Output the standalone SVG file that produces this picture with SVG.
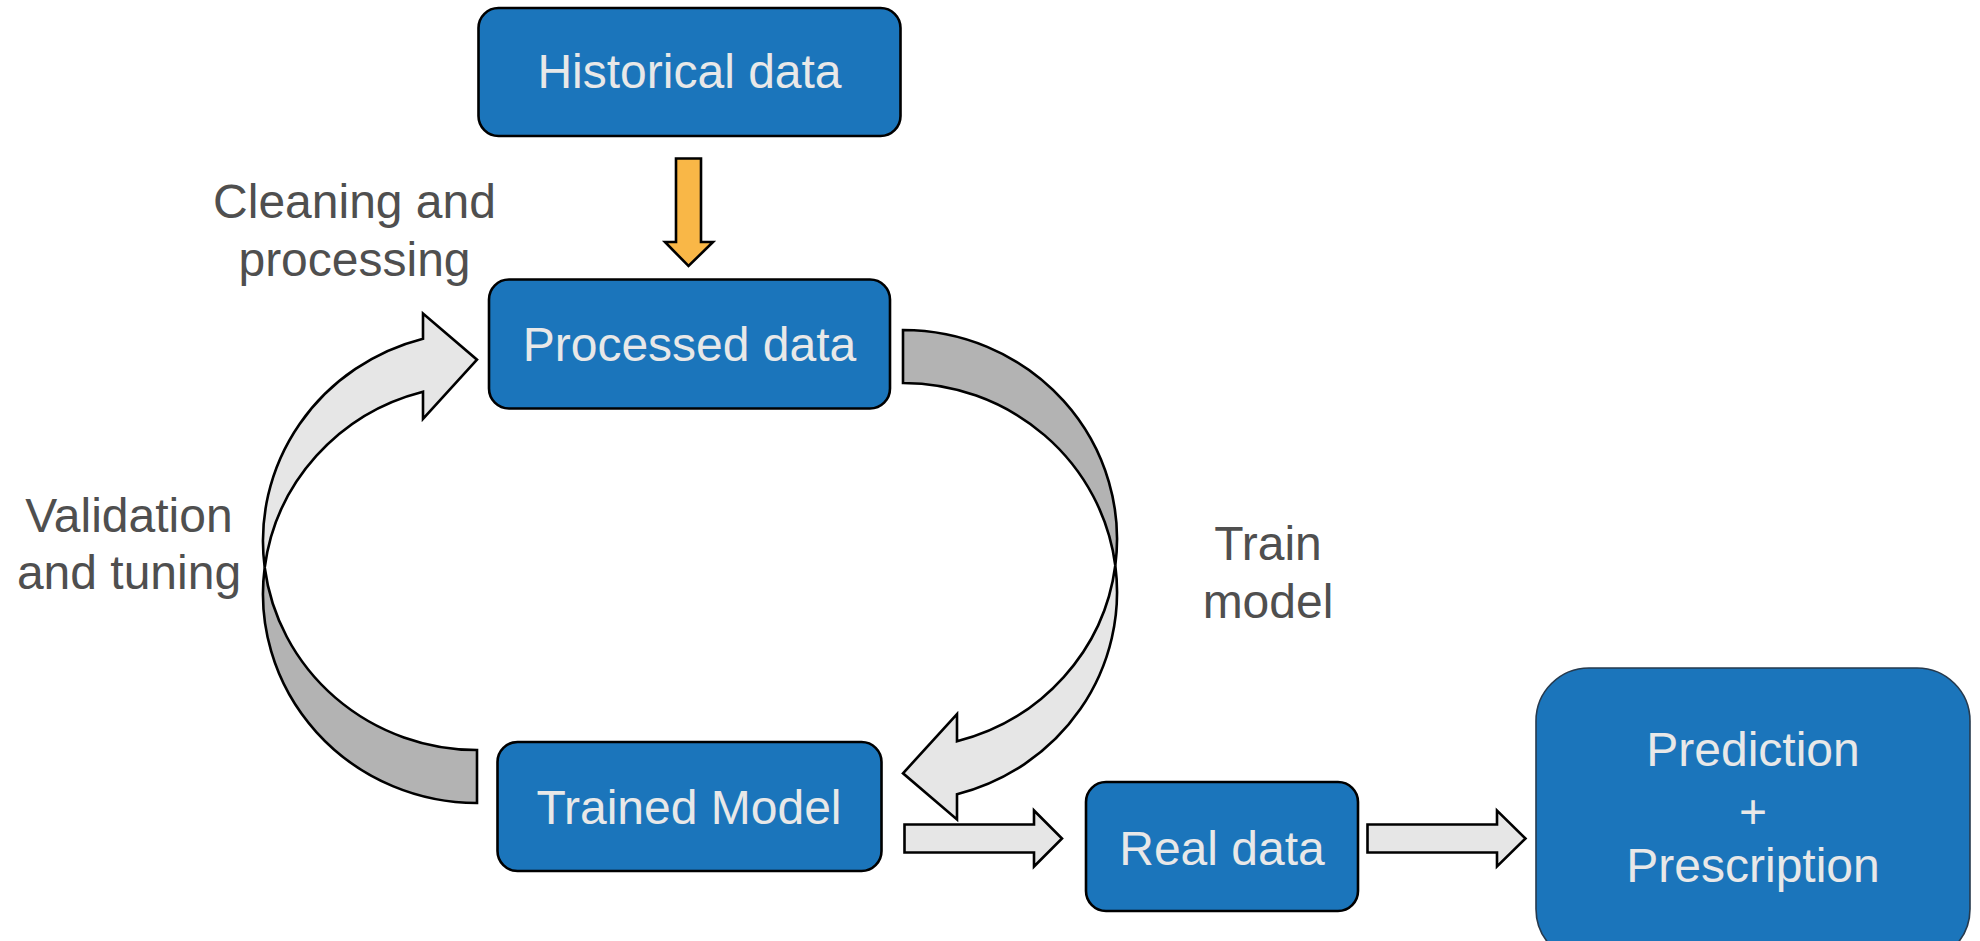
<svg xmlns="http://www.w3.org/2000/svg" width="1980" height="941" viewBox="0 0 1980 941">
  <style>
    .node rect { fill: #1b75bb; stroke: #000000; stroke-width: 2.6; }
    .node text { font-family: "Liberation Sans", Arial, Helvetica, sans-serif; font-size: 48px; fill: #e8e8e8; text-anchor: middle; }
    .label { font-family: "Liberation Sans", Arial, Helvetica, sans-serif; font-size: 48px; fill: #4f4f4f; text-anchor: middle; }
    .back { fill: #b3b3b3; stroke: #000000; stroke-width: 2.6; stroke-linejoin: miter; }
    .front { fill: #e6e6e6; stroke: #000000; stroke-width: 2.6; stroke-linejoin: miter; }
    .orange { fill: #f9b747; stroke: #000000; stroke-width: 2.6; stroke-linejoin: miter; }
  </style>
  <defs>
    <!-- Curved block arrow: two congruent ellipses (rx 214, ry 209) offset by the band thickness.
         Upper band is the shaded back face, lower band the light front face ending in the head. -->
    <g id="curvedArrow">
      <path class="back" d="M 903 330 A 214 209 0 0 1 1115.3 565.5 A 214 209 0 0 0 903 383 Z"/>
      <path class="front" d="M 1115.3 565.5 A 214 209 0 0 1 957 794.3 L 957 819.5 L 903 773.3 L 957 714 L 957 741.3 A 214 209 0 0 0 1115.3 565.5 Z"/>
    </g>
  </defs>

  <rect width="1980" height="941" fill="#ffffff"/>

  <!-- connectors -->
  <g id="connectors">
    <!-- Historical data -> Processed data -->
    <path class="orange" d="M 676 158.5 H 701 V 242 H 713 L 688.5 266 L 665 242 H 676 Z"/>
    <!-- Processed data -> Trained Model (train model) -->
    <use href="#curvedArrow"/>
    <!-- Trained Model -> Processed data (validation and tuning) -->
    <use href="#curvedArrow" transform="rotate(180 690 566.5)"/>
    <!-- Trained Model -> Real data -->
    <path class="front" d="M 904.5 824.5 H 1034 V 810.5 L 1062 838.5 L 1034 866.5 V 852.5 H 904.5 Z"/>
    <!-- Real data -> Prediction + Prescription -->
    <path class="front" d="M 1367.5 824.5 H 1497 V 810.5 L 1525.5 838.5 L 1497 866.5 V 852.5 H 1367.5 Z"/>
  </g>

  <!-- edge labels -->
  <g id="labels">
    <text class="label" x="354.5" y="218">Cleaning and</text>
    <text class="label" x="354.5" y="276">processing</text>
    <text class="label" x="129" y="532">Validation</text>
    <text class="label" x="129" y="589">and tuning</text>
    <text class="label" x="1268" y="560">Train</text>
    <text class="label" x="1268" y="618">model</text>
  </g>

  <!-- nodes -->
  <g id="historical-data" class="node">
    <rect x="478.5" y="8" width="422" height="128" rx="20" ry="20"/>
    <text x="689.5" y="88">Historical data</text>
  </g>
  <g id="processed-data" class="node">
    <rect x="489" y="279.5" width="401" height="129" rx="20" ry="20"/>
    <text x="689.5" y="361">Processed data</text>
  </g>
  <g id="trained-model" class="node">
    <rect x="497.5" y="742" width="384" height="129" rx="20" ry="20"/>
    <text x="689" y="823.5">Trained Model</text>
  </g>
  <g id="real-data" class="node">
    <rect x="1086" y="782" width="272" height="129" rx="20" ry="20"/>
    <text x="1222" y="865">Real data</text>
  </g>
  <g id="prediction-prescription" class="node">
    <rect x="1536" y="668" width="434" height="294" rx="53" ry="53" style="stroke:#263a4e; stroke-width:1.6"/>
    <text x="1753" y="766">Prediction</text>
    <text x="1753" y="828">+</text>
    <text x="1753" y="882">Prescription</text>
  </g>
</svg>
